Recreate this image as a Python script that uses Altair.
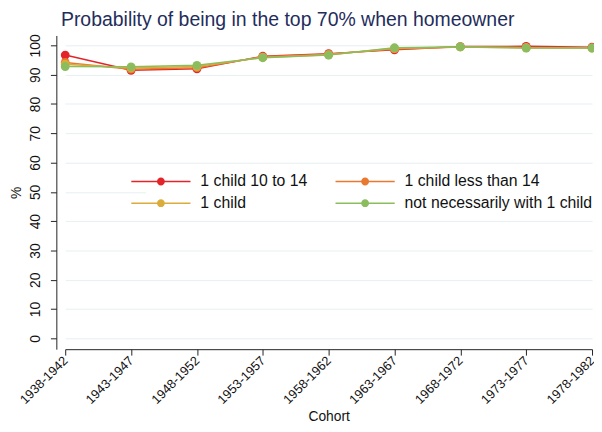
import altair as alt
import pandas as pd

cohorts = ["1938-1942", "1943-1947", "1948-1952", "1953-1957", "1958-1962",
           "1963-1967", "1968-1972", "1973-1977", "1978-1982"]
series = ["1 child 10 to 14", "1 child less than 14", "1 child", "not necessarily with 1 child"]
red = [96.7, 91.5, 92.0, 96.3, 97.2, 98.5, 99.6, 99.7, 99.4]
orange = [94.2, 91.9, 92.4, 96.1, 97.0, 98.8, 99.5, 99.3, 99.2]
yellow = [93.6, 92.3, 92.8, 95.9, 96.8, 99.0, 99.5, 99.2, 99.1]
green = [92.8, 92.7, 93.2, 95.8, 96.7, 99.2, 99.5, 99.1, 99.1]
colors = ["#e3242b", "#e8792f", "#dcac3a", "#8bbd5e"]
y_ticks = [0, 10, 20, 30, 40, 50, 60, 70, 80, 90, 100]

rows = []
for s, vals in zip(series, [red, orange, yellow, green]):
    for c, v in zip(cohorts, vals):
        rows.append({"cohort": c, "series": s, "value": v})
df = pd.DataFrame(rows)

FONT = "Liberation Sans"
symbol_path = ("M-6,-0.15L-0.6,-0.15L-0.6,0.15L-6,0.15Z "
               "M0.6,-0.15L6,-0.15L6,0.15L0.6,0.15Z "
               "M-0.8,0A0.8,0.8,0,1,1,0.8,0A0.8,0.8,0,1,1,-0.8,0Z")

x = alt.X("cohort:N", sort=cohorts,
          scale=alt.Scale(type="point", range=[9, 543], padding=0),
          axis=alt.Axis(title="Cohort", labelAngle=-45, labelAlign="right",
                        labelBaseline="middle", labelFontSize=13, titleFontSize=14,
                        tickSize=6, labelPadding=3, grid=False, domainColor="#222",
                        tickColor="#222", labelColor="#111", titleColor="#111",
                        titleFontWeight="normal", labelFont=FONT, titleFont=FONT,
                        titlePadding=3))
y = alt.Y("value:Q",
          scale=alt.Scale(domain=[-3.7, 103.4], nice=False, zero=False),
          axis=alt.Axis(title="%", values=y_ticks, labelAngle=-90, labelAlign="center",
                        labelBaseline="bottom", labelFontSize=14, tickSize=6,
                        labelPadding=8, grid=True, gridColor="#e6eff0", titleFontSize=14,
                        titleFontWeight="normal", titleAngle=-90, titlePadding=5,
                        domainColor="#222", tickColor="#222", labelColor="#111",
                        titleColor="#111", labelFont=FONT, titleFont=FONT))
color = alt.Color("series:N", sort=series,
                  scale=alt.Scale(domain=series, range=colors),
                  legend=alt.Legend(title=None, orient="none", legendX=91, legendY=133,
                                    columns=2, direction="horizontal",
                                    symbolType=symbol_path, symbolSize=100,
                                    symbolStrokeWidth=0, labelFontSize=16, labelOffset=32,
                                    labelLimit=300,
                                    columnPadding=28, rowPadding=6, fillColor="white",
                                    padding=7, labelColor="#111", labelFont=FONT))

base = alt.Chart(df).encode(x=x, y=y, color=color)
lines = base.mark_line(strokeWidth=1.5)
points = base.mark_point(filled=True, size=80, opacity=1)

chart = alt.layer(lines, points).properties(
    width=545, height=318,
    autosize=alt.AutoSizeParams(type="none"),
    padding={"left": 49, "top": 25, "right": 0, "bottom": 73},
    title=alt.TitleParams(text="Probability of being in the top 70% when homeowner",
                          fontSize=19.7, font=FONT, color="#1f2d5c", fontWeight="normal",
                          anchor="middle", dx=-38, offset=4),
    background="white",
).configure_view(stroke=None)

chart.save("out.html", embed_options={"renderer": "svg", "actions": False})
